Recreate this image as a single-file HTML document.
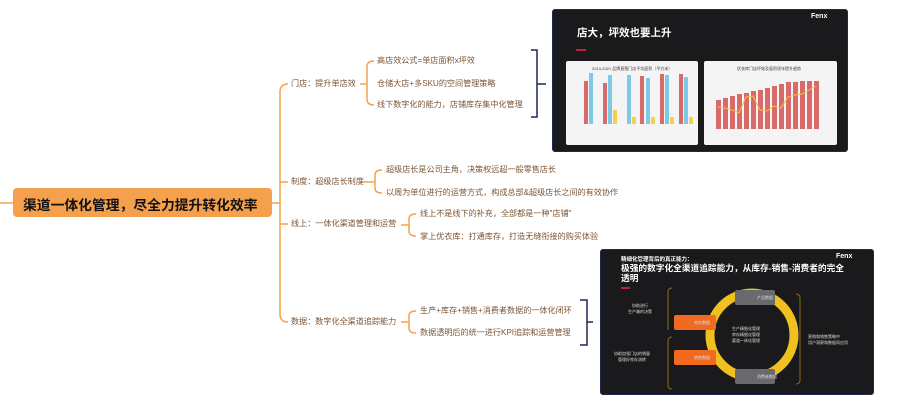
<!DOCTYPE html>
<html><head><meta charset="utf-8"><style>
body{margin:0;width:902px;height:406px;background:#fff;overflow:hidden;position:relative;font-family:"Liberation Sans","Noto Sans CJK SC",sans-serif}
.t{position:absolute;font-size:8.1px;color:#7a5535;white-space:nowrap;line-height:10px}
.w{position:absolute;color:#fff;white-space:nowrap;font-weight:bold}
.s{position:absolute;color:#ddd;font-size:4px;white-space:nowrap}
</style></head><body>
<svg width="902" height="406" style="position:absolute;left:0;top:0">
<g fill="none" stroke="#f5a04c" stroke-width="1.5">
<line x1="0" y1="203" x2="13" y2="203"/>
<line x1="272" y1="203" x2="280" y2="203"/>
<path d="M288 84 Q280 84 280 92 L280 314 Q280 322 288 322"/>
<line x1="280" y1="182" x2="288" y2="182"/>
<line x1="280" y1="224" x2="288" y2="224"/>
<line x1="360" y1="84" x2="367" y2="84"/>
<path d="M374 61 Q367 61 367 67 L367 99 Q367 105 374 105"/>
<line x1="360" y1="182" x2="375" y2="182"/>
<path d="M382 170 Q375 170 375 175 L375 188 Q375 193 382 193"/>
<line x1="401" y1="225" x2="409" y2="225"/>
<path d="M416 214 Q409 214 409 219 L409 231 Q409 236 416 236"/>
<line x1="401" y1="322" x2="409" y2="322"/>
<path d="M416 311 Q409 311 409 316 L409 328 Q409 333 416 333"/>
</g>
<g fill="none" stroke="#1e2850" stroke-width="1.5">
<path d="M531 50 L537 50 L537 117 L531 117 M537 84 L546 84"/>
<path d="M580 300 L587 300 L587 345 L580 345 M587 322 L593 322"/>
</g>
<rect x="13" y="188" width="259" height="29" rx="4" fill="#f5a04c"/>
</svg>
<div class="w" style="left:23px;top:194px;color:#111;font-size:13.8px">渠道一体化管理，尽全力提升转化效率</div>
<div class="t" style="left:291px;top:79px">门店：提升单店效</div>
<div class="t" style="left:377px;top:56px">高店效公式=单店面积x坪效</div>
<div class="t" style="left:377px;top:79px">仓储大店+多SKU的空间管理策略</div>
<div class="t" style="left:377px;top:100px">线下数字化的能力，店铺库存集中化管理</div>
<div class="t" style="left:291px;top:177px">制度：超级店长制度</div>
<div class="t" style="left:386px;top:165px">超级店长是公司主角，决策权远超一般零售店长</div>
<div class="t" style="left:386px;top:188px">以周为单位进行的运营方式，构成总部&amp;超级店长之间的有效协作</div>
<div class="t" style="left:291px;top:219px">线上：一体化渠道管理和运营</div>
<div class="t" style="left:420px;top:209px">线上不是线下的补充，全部都是一种"店铺"</div>
<div class="t" style="left:420px;top:232px">掌上优衣库：打通库存，打造无缝衔接的购买体验</div>
<div class="t" style="left:291px;top:317px">数据：数字化全渠道追踪能力</div>
<div class="t" style="left:420px;top:306px">生产+库存+销售+消费者数据的一体化闭环</div>
<div class="t" style="left:420px;top:328px">数据透明后的统一进行KPI追踪和运营管理</div>

<div style="position:absolute;left:552px;top:9px;width:294px;height:141px;background:#1a1a1c;border:1.5px solid #1e2850;border-radius:3px"></div>
<div class="w" style="left:577px;top:25px;font-size:10.5px">店大，坪效也要上升</div>
<div style="position:absolute;left:576px;top:49px;width:10px;height:1.5px;background:#c0203a"></div>
<div class="w" style="left:811px;top:13px;font-size:7px">Fenx</div>
<div style="position:absolute;left:566px;top:61px;width:132px;height:84px;background:#f4f4f4;border-radius:2px"></div>
<div style="position:absolute;left:704px;top:61px;width:133px;height:84px;background:#f4f4f4;border-radius:2px"></div>
<svg width="902" height="406" style="position:absolute;left:0;top:0">
<g fill="#d86a6a">
<rect x="584" y="81" width="4" height="43"/><rect x="603" y="83" width="4" height="41"/><rect x="640" y="76" width="4" height="48"/><rect x="660" y="74" width="4" height="50"/><rect x="679" y="74" width="4" height="50"/>
</g><g fill="#7ec8e8">
<rect x="589" y="73" width="4" height="51"/><rect x="608" y="75" width="4" height="49"/><rect x="627" y="75" width="4" height="49"/><rect x="646" y="78" width="4" height="46"/><rect x="665" y="75" width="4" height="49"/><rect x="684" y="77" width="4" height="47"/>
</g><g fill="#f5d04c">
<rect x="613" y="110" width="4" height="14"/><rect x="632" y="117" width="4" height="7"/><rect x="651" y="117" width="4" height="7"/><rect x="670" y="117" width="4" height="7"/><rect x="689" y="117" width="4" height="7"/>
</g>
<g fill="#d86a6a">
<rect x="716" y="100" width="5" height="29"/><rect x="723" y="98" width="5" height="31"/><rect x="730" y="96" width="5" height="33"/><rect x="737" y="94" width="5" height="35"/><rect x="744" y="93" width="5" height="36"/><rect x="751" y="91" width="5" height="38"/><rect x="758" y="90" width="5" height="39"/><rect x="765" y="88" width="5" height="41"/><rect x="772" y="86" width="5" height="43"/><rect x="779" y="84" width="5" height="45"/><rect x="786" y="82" width="5" height="47"/><rect x="793" y="82" width="5" height="47"/><rect x="800" y="81" width="5" height="48"/><rect x="807" y="81" width="5" height="48"/><rect x="814" y="81" width="5" height="48"/>
</g>
<polyline fill="none" stroke="#f5c040" stroke-width="1" points="718,107 725,108 732,110 739,113 746,97 753,96 760,110 767,111 774,106 781,108 788,97 795,95 802,94 809,90 816,86"/>
</svg>
<div class="s" style="left:592px;top:66px;color:#333">2014-2021 品牌直营门店平均面积（平方米）</div>
<div class="s" style="left:737px;top:66px;color:#333">优衣库门店坪效及面积逐年提升趋势</div>

<div style="position:absolute;left:600px;top:249px;width:272px;height:144px;background:#1a1a1c;border:1.5px solid #1e2850;border-radius:3px"></div>
<div class="w" style="left:621px;top:255px;font-size:5.5px">精细化管理背后的真正能力：</div>
<div class="w" style="left:621px;top:263px;font-size:8.7px;line-height:10px">极强的数字化全渠道追踪能力，从库存-销售-消费者的完全<br>透明</div>
<div class="w" style="left:836px;top:253px;font-size:7px">Fenx</div>
<div style="position:absolute;left:621px;top:287px;width:9px;height:1.5px;background:#c0203a"></div>
<svg width="902" height="406" style="position:absolute;left:0;top:0">
<circle cx="752" cy="335" r="42" fill="none" stroke="#f0c020" stroke-width="9"/>
<g fill="none" stroke="#8a6a20" stroke-width="1">
<path d="M672 288 Q668 288 668 292 L668 330 M672 337 Q668 337 668 341 L668 385 Q668 389 672 389"/>
<path d="M796 294 Q800 294 800 298 L800 380 Q800 384 796 384"/>
</g>
<rect x="735" y="290" width="40" height="15" rx="2" fill="#6a6a6e"/>
<rect x="735" y="369" width="40" height="15" rx="2" fill="#6a6a6e"/>
<rect x="674" y="315" width="42" height="15" rx="2" fill="#f06a20"/>
<rect x="674" y="350" width="42" height="15" rx="2" fill="#f06a20"/>
</svg>
<div class="s" style="left:757px;top:295px">产品数据</div>
<div class="s" style="left:757px;top:374px">消费者数据</div>
<div class="s" style="left:694px;top:320px">库存数据</div>
<div class="s" style="left:694px;top:355px">销售数据</div>
<div class="s" style="left:732px;top:326px;line-height:6px">生产精细化管理<br>库存精细化管理<br>渠道一体化管理</div>
<div class="s" style="left:628px;top:303px;line-height:6px;text-align:center">协助进行<br>生产端的决策</div>
<div class="s" style="left:614px;top:351px;line-height:6px;text-align:center">协助加强门店的销量<br>管理好库存流转</div>
<div class="s" style="left:808px;top:334px;line-height:6px">营销和销售策略中<br>用户洞察和数据再应用</div>
</body></html>
